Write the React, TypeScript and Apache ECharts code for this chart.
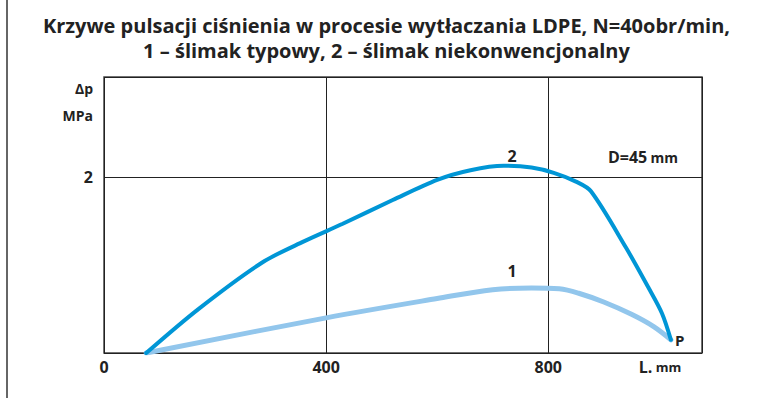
import React, { useEffect, useRef } from "react";
import * as echarts from "echarts";

const titleLines = [
  "Krzywe pulsacji ciśnienia w procesie wytłaczania LDPE, N=40obr/min,",
  "1 – ślimak typowy, 2 – ślimak niekonwencjonalny",
];
const xTicks = [0, 400, 800];
const yTicks = [2];
// curve 1 – typical screw (L mm, Δp MPa)
const curve1L = [76, 400, 600, 700, 770, 820, 855, 900, 950, 990, 1021];
const curve1P = [0, 0.4, 0.62, 0.72, 0.74, 0.73, 0.68, 0.58, 0.44, 0.3, 0.15];
// curve 2 – unconventional screw
const curve2L = [76, 170, 285, 360, 430, 520, 600, 660, 720, 770, 810, 850, 877, 940, 980, 1005, 1021];
const curve2P = [0, 0.5, 1.03, 1.27, 1.47, 1.74, 1.97, 2.08, 2.13, 2.11, 2.05, 1.95, 1.84, 1.2, 0.75, 0.45, 0.15];
const label1At = 770;
const label2At = 720;

const FONT = "Open Sans";
const lbl = { fontWeight: "bold" as const, color: "#222", fontFamily: FONT };

export default function App() {
  const ref = useRef<HTMLDivElement>(null);
  useEffect(() => {
    if (!ref.current) return;
    const chart = echarts.init(ref.current, null, { renderer: "svg" });
    const d1 = curve1L.map((l, i) => [l, curve1P[i]]);
    const d2 = curve2L.map((l, i) => [l, curve2P[i]]);
    const p1 = curve1P[curve1L.indexOf(label1At)];
    const p2 = curve2P[curve2L.indexOf(label2At)];
    chart.setOption({
      animation: false,
      title: {
        text: titleLines.join("\n"),
        left: "center",
        top: 8,
        textStyle: { fontSize: 20, fontWeight: "bold", color: "#222", fontFamily: FONT, lineHeight: 25 },
      },
      grid: {
        left: 104, top: 77, width: 598, height: 276,
        show: true, borderColor: "#444", borderWidth: 1.5, backgroundColor: "transparent",
      },
      xAxis: {
        type: "value", min: 0, max: 1077, interval: 400,
        axisLine: { show: false },
        axisTick: { show: false },
        splitLine: { show: true, lineStyle: { color: "#222", width: 1 } },
        axisLabel: {
          showMaxLabel: false, margin: 6, fontSize: 16, ...lbl,
          formatter: (v: number) => (xTicks.includes(v) ? String(v) : ""),
        },
      },
      yAxis: {
        type: "value", min: 0, max: 3.14, interval: 2,
        axisLine: { show: false },
        axisTick: { show: false },
        splitLine: { show: true, lineStyle: { color: "#222", width: 1 } },
        axisLabel: {
          showMaxLabel: false, margin: 11, fontSize: 16, ...lbl,
          formatter: (v: number) => (yTicks.includes(v) ? String(v) : ""),
        },
      },
      series: [
        {
          type: "line", name: "1", data: d1, smooth: 0.35, symbol: "none",
          lineStyle: { color: "#92c6ec", width: 5, cap: "round" },
          endLabel: { show: true, formatter: "P", fontSize: 15, ...lbl, distance: 4 },
          markPoint: {
            symbol: "circle", symbolSize: 0,
            data: [{ coord: [label1At - 35, p1], label: { show: true, formatter: "1", offset: [0, -17], fontSize: 16, ...lbl } }],
          },
          z: 2,
        },
        {
          type: "line", name: "2", data: d2, smooth: 0.3, symbol: "none",
          lineStyle: { color: "#0096d6", width: 4, cap: "round" },
          markPoint: {
            symbol: "circle", symbolSize: 0,
            data: [{ coord: [label2At + 15, p2], label: { show: true, formatter: "2", offset: [0, -10], fontSize: 16, ...lbl } }],
          },
          z: 3,
        },
      ],
      graphic: [
        { type: "line", shape: { x1: 7, y1: 0, x2: 7, y2: 398 }, style: { stroke: "#333", lineWidth: 1.5 } },
        { type: "text", x: 93, y: 88, style: { text: "Δp", align: "right", verticalAlign: "middle", fontSize: 14, fontWeight: "bold", fill: "#222", fontFamily: FONT } },
        { type: "text", x: 93, y: 115, style: { text: "MPa", align: "right", verticalAlign: "middle", fontSize: 14, fontWeight: "bold", fill: "#222", fontFamily: FONT } },
        {
          type: "text", x: 643, y: 157,
          style: {
            text: "{b|D=45} {s|mm}", align: "center", verticalAlign: "middle",
            rich: {
              b: { fontSize: 16, fontWeight: "bold", fill: "#222", fontFamily: FONT },
              s: { fontSize: 14, fontWeight: "bold", fill: "#222", fontFamily: FONT },
            },
          },
        },
        {
          type: "text", x: 660, y: 367,
          style: {
            text: "{b|L.} {s|mm}", align: "center", verticalAlign: "middle",
            rich: {
              b: { fontSize: 16, fontWeight: "bold", fill: "#222", fontFamily: FONT },
              s: { fontSize: 13, fontWeight: "bold", fill: "#222", fontFamily: FONT },
            },
          },
        },
      ],
    });
    return () => chart.dispose();
  }, []);
  return <div ref={ref} style={{ position: "fixed", left: 0, top: 0, width: 773, height: 398, background: "#fff" }} />;
}
